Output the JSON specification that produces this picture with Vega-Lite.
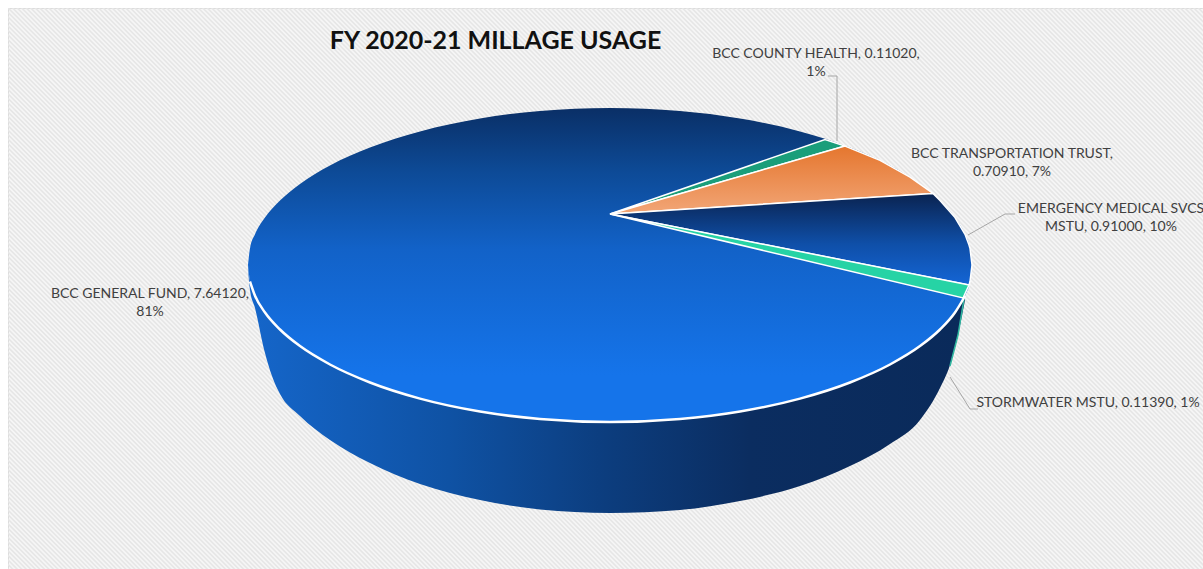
{
  "$schema": "https://vega.github.io/schema/vega-lite/v6.json",
  "width": 1195,
  "height": 561,
  "padding": {"left": 8, "top": 8, "right": 0, "bottom": 0},
  "autosize": "none",
  "background": "#ffffff",
  "view": {"fill": "#f6f6f6", "stroke": "#dcdcdc"},
  "datasets": {
    "hatch": [{"x": -45, "y": 938, "x2": 1255, "y2": -362}],
    "generalFund": [
      {"slice": "BCC GENERAL FUND", "x": 248, "y": 265, "y2": 265},
      {"slice": "BCC GENERAL FUND", "x": 250, "y": 248.5, "y2": 281.5},
      {"slice": "BCC GENERAL FUND", "x": 255, "y": 234.3, "y2": 295.7},
      {"slice": "BCC GENERAL FUND", "x": 265, "y": 217.5, "y2": 312.5},
      {"slice": "BCC GENERAL FUND", "x": 280, "y": 200.5, "y2": 329.5},
      {"slice": "BCC GENERAL FUND", "x": 300, "y": 183.9, "y2": 346.1},
      {"slice": "BCC GENERAL FUND", "x": 330, "y": 165.5, "y2": 364.5},
      {"slice": "BCC GENERAL FUND", "x": 370, "y": 147.5, "y2": 382.5},
      {"slice": "BCC GENERAL FUND", "x": 420, "y": 131.4, "y2": 398.6},
      {"slice": "BCC GENERAL FUND", "x": 480, "y": 118.5, "y2": 411.5},
      {"slice": "BCC GENERAL FUND", "x": 540, "y": 111, "y2": 419},
      {"slice": "BCC GENERAL FUND", "x": 610, "y": 108, "y2": 422},
      {"slice": "BCC GENERAL FUND", "x": 680, "y": 111, "y2": 419},
      {"slice": "BCC GENERAL FUND", "x": 740, "y": 118.5, "y2": 411.5},
      {"slice": "BCC GENERAL FUND", "x": 800, "y": 131.4, "y2": 398.6},
      {"slice": "BCC GENERAL FUND", "x": 850, "y": 147.5, "y2": 382.5},
      {"slice": "BCC GENERAL FUND", "x": 890, "y": 165.5, "y2": 364.5},
      {"slice": "BCC GENERAL FUND", "x": 920, "y": 183.9, "y2": 346.1},
      {"slice": "BCC GENERAL FUND", "x": 940, "y": 200.5, "y2": 329.5},
      {"slice": "BCC GENERAL FUND", "x": 955, "y": 217.5, "y2": 312.5},
      {"slice": "BCC GENERAL FUND", "x": 965, "y": 234.3, "y2": 295.7},
      {"slice": "BCC GENERAL FUND", "x": 970, "y": 248.5, "y2": 281.5},
      {"slice": "BCC GENERAL FUND", "x": 972, "y": 265, "y2": 265}
    ],
    "wall": [
      {"x": 248, "y": 265, "y2": 268},
      {"x": 250, "y": 281.5, "y2": 290},
      {"x": 255, "y": 295.7, "y2": 308},
      {"x": 265, "y": 312.5, "y2": 353},
      {"x": 272, "y": 321, "y2": 376},
      {"x": 280, "y": 329.5, "y2": 394},
      {"x": 300, "y": 346.1, "y2": 416},
      {"x": 330, "y": 364.5, "y2": 440},
      {"x": 370, "y": 382.5, "y2": 463},
      {"x": 420, "y": 398.6, "y2": 484},
      {"x": 480, "y": 411.5, "y2": 500},
      {"x": 540, "y": 419, "y2": 509.5},
      {"x": 610, "y": 422, "y2": 513},
      {"x": 680, "y": 419, "y2": 510},
      {"x": 740, "y": 411.5, "y2": 501},
      {"x": 800, "y": 398.6, "y2": 486},
      {"x": 850, "y": 382.5, "y2": 466},
      {"x": 890, "y": 364.5, "y2": 444},
      {"x": 920, "y": 346.1, "y2": 420},
      {"x": 940, "y": 329.5, "y2": 388},
      {"x": 950, "y": 318, "y2": 365},
      {"x": 958, "y": 307, "y2": 335},
      {"x": 965, "y": 296, "y2": 300}
    ],
    "rim": [
      {"x": 250, "y": 281.5},
      {"x": 255, "y": 295.7},
      {"x": 265, "y": 312.5},
      {"x": 280, "y": 329.5},
      {"x": 300, "y": 346.1},
      {"x": 330, "y": 364.5},
      {"x": 370, "y": 382.5},
      {"x": 420, "y": 398.6},
      {"x": 480, "y": 411.5},
      {"x": 540, "y": 419},
      {"x": 610, "y": 422},
      {"x": 680, "y": 419},
      {"x": 740, "y": 411.5},
      {"x": 800, "y": 398.6},
      {"x": 850, "y": 382.5},
      {"x": 890, "y": 364.5},
      {"x": 920, "y": 346.1},
      {"x": 940, "y": 329.5},
      {"x": 955, "y": 312.5},
      {"x": 965, "y": 296}
    ],
    "countyHealth": [
      {"slice": "BCC COUNTY HEALTH", "x": 610, "y": 214, "y2": 214},
      {"slice": "BCC COUNTY HEALTH", "x": 825, "y": 139.5, "y2": 151.8},
      {"slice": "BCC COUNTY HEALTH", "x": 845, "y": 146, "y2": 146}
    ],
    "transportation": [
      {"slice": "BCC TRANSPORTATION TRUST", "x": 610, "y": 214, "y2": 214},
      {"slice": "BCC TRANSPORTATION TRUST", "x": 845, "y": 146, "y2": 199.1},
      {"slice": "BCC TRANSPORTATION TRUST", "x": 880, "y": 160.4, "y2": 196.9},
      {"slice": "BCC TRANSPORTATION TRUST", "x": 910, "y": 177.1, "y2": 195},
      {"slice": "BCC TRANSPORTATION TRUST", "x": 933, "y": 193.5, "y2": 193.5}
    ],
    "emergency": [
      {"slice": "EMERGENCY MEDICAL SVCS MSTU", "x": 610, "y": 214, "y2": 214},
      {"slice": "EMERGENCY MEDICAL SVCS MSTU", "x": 933, "y": 193.5, "y2": 277.9},
      {"slice": "EMERGENCY MEDICAL SVCS MSTU", "x": 940, "y": 200.5, "y2": 279.3},
      {"slice": "EMERGENCY MEDICAL SVCS MSTU", "x": 955, "y": 217.5, "y2": 282.2},
      {"slice": "EMERGENCY MEDICAL SVCS MSTU", "x": 965, "y": 234.3, "y2": 284.2},
      {"slice": "EMERGENCY MEDICAL SVCS MSTU", "x": 969, "y": 245, "y2": 285},
      {"slice": "EMERGENCY MEDICAL SVCS MSTU", "x": 970, "y": 248.5, "y2": 281.5},
      {"slice": "EMERGENCY MEDICAL SVCS MSTU", "x": 972, "y": 265, "y2": 265}
    ],
    "stormwater": [
      {"slice": "STORMWATER MSTU", "x": 610, "y": 214, "y2": 214},
      {"slice": "STORMWATER MSTU", "x": 963, "y": 283.8, "y2": 298},
      {"slice": "STORMWATER MSTU", "x": 969, "y": 285, "y2": 285}
    ],
    "stormwaterEdge": [
      {"x": 950, "y": 366},
      {"x": 958, "y": 335},
      {"x": 964, "y": 299}
    ],
    "leaders": [
      {"slice": "BCC COUNTY HEALTH", "x": 828, "y": 76},
      {"slice": "BCC COUNTY HEALTH", "x": 837, "y": 76},
      {"slice": "BCC COUNTY HEALTH", "x": 837, "y": 141},
      {"slice": "EMERGENCY MEDICAL SVCS MSTU", "x": 968, "y": 235},
      {"slice": "EMERGENCY MEDICAL SVCS MSTU", "x": 1005, "y": 214},
      {"slice": "EMERGENCY MEDICAL SVCS MSTU", "x": 1015, "y": 214},
      {"slice": "STORMWATER MSTU", "x": 950, "y": 377},
      {"slice": "STORMWATER MSTU", "x": 970, "y": 409},
      {"slice": "STORMWATER MSTU", "x": 978, "y": 409}
    ],
    "labels": [
      {"slice": "BCC GENERAL FUND", "value": 7.6412, "share": 81, "label": "BCC GENERAL FUND, 7.64120,\n81%", "x": 150, "y": 294},
      {"slice": "BCC COUNTY HEALTH", "value": 0.1102, "share": 1, "label": "BCC COUNTY HEALTH, 0.11020,\n1%", "x": 816, "y": 54},
      {"slice": "BCC TRANSPORTATION TRUST", "value": 0.7091, "share": 7, "label": "BCC TRANSPORTATION TRUST,\n0.70910, 7%", "x": 1012, "y": 154},
      {"slice": "EMERGENCY MEDICAL SVCS MSTU", "value": 0.91, "share": 10, "label": "EMERGENCY MEDICAL SVCS\nMSTU, 0.91000, 10%", "x": 1111, "y": 209},
      {"slice": "STORMWATER MSTU", "value": 0.1139, "share": 1, "label": "STORMWATER MSTU, 0.11390, 1%", "x": 1088, "y": 403}
    ],
    "heading": [{"label": "FY 2020-21 MILLAGE USAGE", "x": 495.5, "y": 41}]
  },
  "encoding": {
    "x": {"field": "x", "type": "quantitative", "axis": null, "scale": {"domain": [8, 1203], "nice": false, "zero": false}},
    "y": {"field": "y", "type": "quantitative", "axis": null, "scale": {"domain": [8, 569], "nice": false, "zero": false, "reverse": true}}
  },
  "layer": [
    {
      "data": {"name": "hatch"},
      "mark": {"type": "rule", "clip": true, "stroke": "#e6e6e6", "strokeWidth": 1800, "strokeDash": [1.6, 1.6], "strokeCap": "butt"},
      "encoding": {"x2": {"field": "x2"}, "y2": {"field": "y2"}}
    },
    {
      "data": {"name": "wall"},
      "mark": {
        "type": "area",
        "interpolate": "monotone",
        "fill": {
          "x1": 0, "y1": 0, "x2": 1, "y2": 0, "gradient": "linear",
          "stops": [
            {"offset": 0, "color": "#1566ca"},
            {"offset": 0.28, "color": "#0f52a4"},
            {"offset": 0.5, "color": "#0c3d7e"},
            {"offset": 0.7, "color": "#0b2d60"},
            {"offset": 1, "color": "#0a2a5a"}
          ]
        }
      },
      "encoding": {"y2": {"field": "y2"}}
    },
    {
      "data": {"name": "stormwaterEdge"},
      "mark": {"type": "line", "stroke": "#2fb7a0", "strokeWidth": 1.5},
      "encoding": {}
    },
    {
      "data": {"name": "generalFund"},
      "mark": {
        "type": "area",
        "interpolate": "monotone",
        "fill": {
          "x1": 0, "y1": 0, "x2": 0, "y2": 1, "gradient": "linear",
          "stops": [
            {"offset": 0, "color": "#0a2f66"},
            {"offset": 0.2, "color": "#0d4a96"},
            {"offset": 0.45, "color": "#1262c8"},
            {"offset": 0.85, "color": "#1574ea"},
            {"offset": 1, "color": "#1574ea"}
          ]
        }
      },
      "encoding": {"y2": {"field": "y2"}}
    },
    {
      "data": {"name": "countyHealth"},
      "mark": {"type": "area", "fill": "#1a9e7a", "stroke": "#ffffff", "strokeWidth": 1.5},
      "encoding": {"y2": {"field": "y2"}}
    },
    {
      "data": {"name": "transportation"},
      "mark": {
        "type": "area",
        "stroke": "#ffffff",
        "strokeWidth": 1.5,
        "fill": {
          "x1": 0, "y1": 0, "x2": 0, "y2": 1, "gradient": "linear",
          "stops": [
            {"offset": 0, "color": "#e5762e"},
            {"offset": 1, "color": "#f2a677"}
          ]
        }
      },
      "encoding": {"y2": {"field": "y2"}}
    },
    {
      "data": {"name": "emergency"},
      "mark": {
        "type": "area",
        "stroke": "#ffffff",
        "strokeWidth": 1.5,
        "fill": {
          "x1": 0, "y1": 0, "x2": 0, "y2": 1, "gradient": "linear",
          "stops": [
            {"offset": 0, "color": "#0a2350"},
            {"offset": 0.55, "color": "#0f4fa8"},
            {"offset": 1, "color": "#1465d5"}
          ]
        }
      },
      "encoding": {"y2": {"field": "y2"}}
    },
    {
      "data": {"name": "stormwater"},
      "mark": {"type": "area", "fill": "#26d3a5", "stroke": "#ffffff", "strokeWidth": 1.5},
      "encoding": {"y2": {"field": "y2"}}
    },
    {
      "data": {"name": "rim"},
      "mark": {"type": "line", "stroke": "#ffffff", "strokeWidth": 2.5, "interpolate": "monotone"},
      "encoding": {}
    },
    {
      "data": {"name": "leaders"},
      "mark": {"type": "line", "stroke": "#a6a6a6", "strokeWidth": 1},
      "encoding": {"detail": {"field": "slice"}}
    },
    {
      "data": {"name": "labels"},
      "mark": {"type": "text", "font": "Lato", "fontSize": 14, "fill": "#404040", "align": "center", "baseline": "middle", "lineBreak": "\n", "lineHeight": 18},
      "encoding": {"text": {"field": "label"}}
    },
    {
      "data": {"name": "heading"},
      "mark": {"type": "text", "font": "Lato", "fontSize": 25, "fontWeight": "bold", "fill": "#111111", "align": "center", "baseline": "middle"},
      "encoding": {"text": {"field": "label"}}
    }
  ]
}
